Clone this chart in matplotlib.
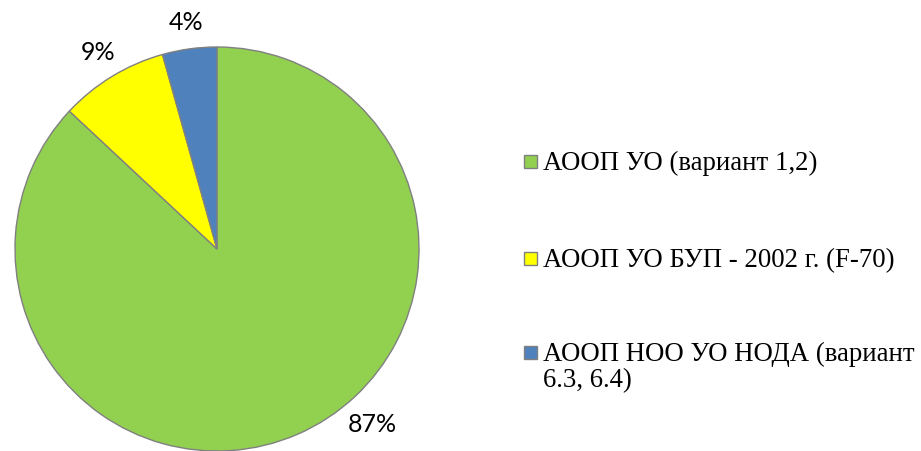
import numpy as np
import matplotlib.pyplot as plt
from matplotlib.patches import Rectangle

labels = ['АООП УО (вариант 1,2)',
          'АООП УО БУП - 2002 г. (F-70)',
          'АООП НОО УО НОДА (вариант\n6.3, 6.4)']
values = [60, 6, 3]
pct_text = ['87%', '9%', '4%']
colors = ['#92D050', '#FFFF00', '#4F81BD']

W, H = 921, 451
fig = plt.figure(figsize=(W / 100, H / 100), dpi=100)

# pie axes, centre at (217, 249) px from top, radius 202 px
cx, cy, r = 217, 249, 202
ax = fig.add_axes([(cx - r) / W, (H - cy - r) / H, 2 * r / W, 2 * r / H])
wedges, _ = ax.pie(values, colors=colors, startangle=90, counterclock=False,
                   radius=1.0, wedgeprops=dict(edgecolor='#808080', linewidth=1.0))
ax.set_xlim(-1, 1)
ax.set_ylim(-1, 1)
ax.set_aspect('equal')
ax.axis('off')
for w in wedges:
    w.set_clip_on(False)

# data labels (angle, distance from centre); None = wedge middle
label_pos = [(-48.5, 1.158), (None, 1.136), (None, 1.134)]
for w, txt, (ang, dist) in zip(wedges, pct_text, label_pos):
    if ang is None:
        ang = (w.theta1 + w.theta2) / 2
    a = np.deg2rad(ang)
    ax.text(dist * np.cos(a), dist * np.sin(a), txt, ha='center', va='center',
            fontsize=18, family=['Lato', 'DejaVu Sans'], color='black', clip_on=False)

# legend drawn by hand: y of the first line's centre, px from top
centres = [161, 258, 352]
fs = 19.3
for lab, col, yc in zip(labels, colors, centres):
    fig.add_artist(Rectangle((524 / W, (H - yc - 6.5) / H), 13 / W, 13 / H,
                             transform=fig.transFigure, facecolor=col,
                             edgecolor='#808080', linewidth=1.0))
    fig.text(543 / W, (H - yc + 10) / H, lab, ha='left', va='top',
             fontsize=fs, family=['Liberation Serif', 'DejaVu Serif'],
             linespacing=1.07, color='black')

fig.savefig('out.png', dpi=100)
